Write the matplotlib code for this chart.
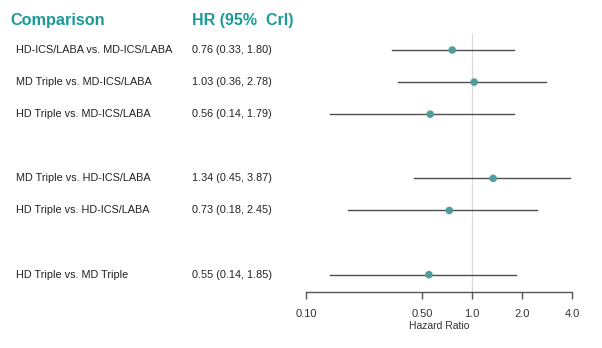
import matplotlib.pyplot as plt
import matplotlib.transforms as mtransforms

plt.rcParams['font.family'] = ['Liberation Sans', 'DejaVu Sans']

# data
comparisons = ['HD-ICS/LABA vs. MD-ICS/LABA',
               'MD Triple vs. MD-ICS/LABA',
               'HD Triple vs. MD-ICS/LABA',
               'MD Triple vs. HD-ICS/LABA',
               'HD Triple vs. HD-ICS/LABA',
               'HD Triple vs. MD Triple']
hr = [0.76, 1.03, 0.56, 1.34, 0.73, 0.55]
lower = [0.33, 0.36, 0.14, 0.45, 0.18, 0.14]
upper = [1.80, 2.78, 1.79, 3.87, 2.45, 1.85]
rows = [0, 1, 2, 4, 5, 7]
ticks = [0.10, 0.50, 1.0, 2.0, 4.0]
tick_labels = ['0.10', '0.50', '1.0', '2.0', '4.0']

teal = '#1a9b98'
dot = '#4e9e9b'
line_col = '#4d4d4d'

fig = plt.figure(figsize=(6.02, 3.48), dpi=100)
ax = fig.add_axes([306 / 602, 1 - 292 / 348, (572 - 306) / 602, (292 - 33) / 348])
ax.set_xscale('log')
ax.set_xlim(0.1, 4.0)
ax.set_ylim(7.54, -0.53)

ax.axvline(1.0, color='#d9d9d9', lw=0.9, zorder=0)
for y, m, lo, hi in zip(rows, hr, lower, upper):
    ax.plot([lo, hi], [y, y], color=line_col, lw=1.0, zorder=1)
ax.scatter(hr, rows, s=30, color=dot, zorder=3, edgecolors='none')

for s in ['top', 'right', 'left']:
    ax.spines[s].set_visible(False)
ax.spines['bottom'].set_color('#555555')
ax.spines['bottom'].set_linewidth(1.0)
ax.set_yticks([])
ax.set_xticks(ticks)
ax.set_xticklabels(tick_labels)
ax.minorticks_off()
ax.tick_params(axis='x', length=5, width=1.0, color='#555555', pad=7,
               labelsize=8, labelcolor='#333333')
ax.set_xlabel('Hazard Ratio', fontsize=7.5, color='#333333', labelpad=2)

# left text columns
trans = mtransforms.blended_transform_factory(fig.transFigure, ax.transData)
for y, name, m, lo, hi in zip(rows, comparisons, hr, lower, upper):
    fig.text(16 / 602, y, name, transform=trans, fontsize=7.8, va='center',
             color='#222222')
    fig.text(192 / 602, y, '{:.2f} ({:.2f}, {:.2f})'.format(m, lo, hi),
             transform=trans, fontsize=7.8, va='center', color='#222222')

fig.text(10 / 602, 1 - 21 / 348, 'Comparison', fontsize=11.7, fontweight='bold',
         color=teal, va='center')
fig.text(192 / 602, 1 - 21 / 348, 'HR (95%  Crl)', fontsize=11.5, fontweight='bold',
         color=teal, va='center')

fig.savefig('out.png', dpi=100)
